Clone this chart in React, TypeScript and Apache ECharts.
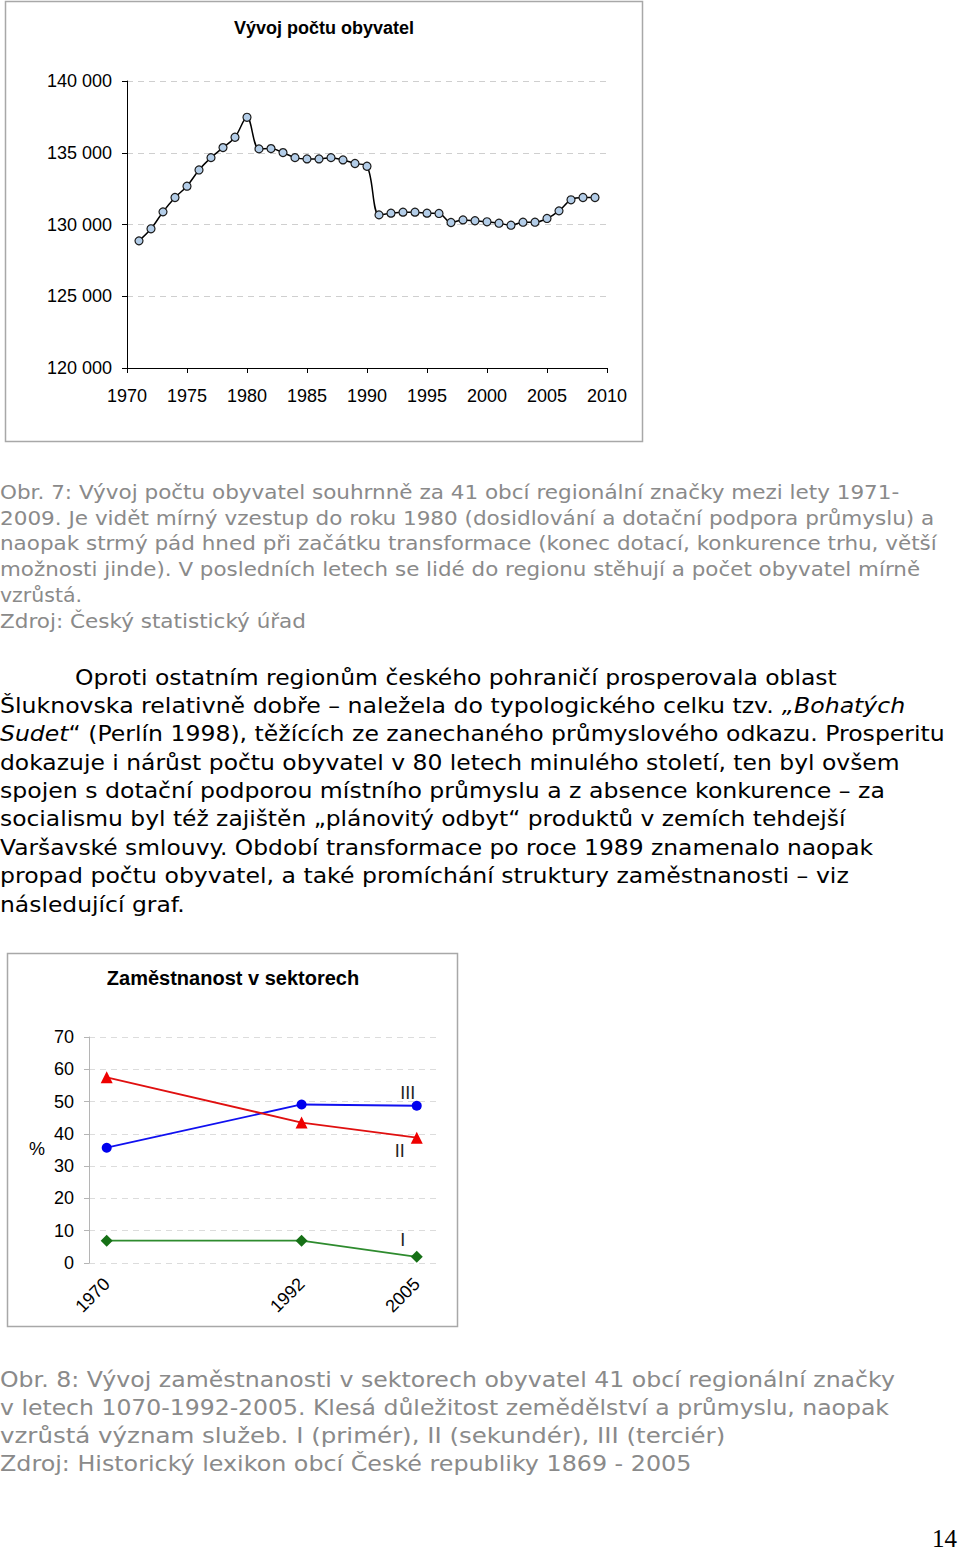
import React, { useEffect, useRef } from "react";
import * as echarts from "echarts";

// ---------- DATA ----------
const popYears = [
  1971, 1972, 1973, 1974, 1975, 1976, 1977, 1978, 1979, 1980,
  1981, 1982, 1983, 1984, 1985, 1986, 1987, 1988, 1989, 1990,
  1991, 1992, 1993, 1994, 1995, 1996, 1997, 1998, 1999, 2000,
  2001, 2002, 2003, 2004, 2005, 2006, 2007, 2008, 2009,
];
const popValues = [
  128860, 129700, 130880, 131880, 132670, 133800, 134660, 135360, 136080, 137470,
  135270, 135290, 135010, 134660, 134570, 134570, 134660, 134500, 134250, 134060,
  130670, 130790, 130860, 130860, 130790, 130770, 130140, 130320, 130260, 130190,
  130090, 129950, 130160, 130160, 130420, 130950, 131720, 131880, 131880,
];
const popTitle = "Vývoj počtu obyvatel";

const empYears = [1970, 1992, 2005];
const sectorIII = [35.7, 49.1, 48.7];
const sectorII = [57.5, 43.5, 38.8];
const sectorI = [6.9, 6.9, 1.9];
const sectorNames = ["III", "II", "I"];
const empTitle = "Zaměstnanost v sektorech";
const empAxisName = "%";

const caption1Lines = [
  "Obr. 7: Vývoj počtu obyvatel souhrnně za 41 obcí regionální značky mezi lety 1971-",
  "2009. Je vidět mírný vzestup do roku 1980 (dosidlování a dotační podpora průmyslu) a",
  "naopak strmý pád hned při začátku transformace (konec dotací, konkurence trhu, větší",
  "možnosti jinde). V posledních letech se lidé do regionu stěhují a počet obyvatel mírně",
  "vzrůstá.",
  "Zdroj: Český statistický úřad",
];

// segments: [text, italic]
const bodyLines: [string, boolean][][] = [
  [["Oproti ostatním regionům českého pohraničí prosperovala oblast", false]],
  [["Šluknovska relativně dobře – naležela do typologického celku tzv. ", false], ["„Bohatých", true]],
  [["Sudet", true], ["“ (Perlín 1998), těžících ze zanechaného průmyslového odkazu. Prosperitu", false]],
  [["dokazuje i nárůst počtu obyvatel v 80 letech minulého století, ten byl ovšem", false]],
  [["spojen s dotační podporou místního průmyslu a z absence konkurence – za", false]],
  [["socialismu byl též zajištěn „plánovitý odbyt“ produktů v zemích tehdejší", false]],
  [["Varšavské smlouvy. Období transformace po roce 1989 znamenalo naopak", false]],
  [["propad počtu obyvatel, a také promíchání struktury zaměstnanosti – viz", false]],
  [["následující graf.", false]],
];

const caption2Lines = [
  "Obr. 8: Vývoj zaměstnanosti v sektorech obyvatel 41 obcí regionální značky",
  "v letech 1070-1992-2005. Klesá důležitost zemědělství a průmyslu, naopak",
  "vzrůstá význam služeb. I (primér), II (sekundér), III (terciér)",
  "Zdroj: Historický lexikon obcí České republiky 1869 - 2005",
];
const pageNumber = "14";

// ---------- LAYOUT ----------
const PARA_FONT = "DejaVu Sans";
const CHART_FONT = "Liberation Sans";
const caption1Layout = { size: 20, ys: [492, 518, 543, 569, 595, 621], rights: [900, 935, 937, 920, 82, 306] };
const bodyLayout = {
  size: 22,
  ys: [677, 705, 733, 762, 790, 818, 847, 875, 904],
  lefts: [75, 0, 0, 0, 0, 0, 0, 0, 0],
  rights: [837, 905, 945, 900, 886, 846, 874, 849, 185],
};
const caption2Layout = { size: 22, ys: [1379, 1407, 1435, 1463], rights: [895, 890, 726, 692] };

let measureCtx: CanvasRenderingContext2D | null = null;
function measure(text: string, size: number, italic: boolean, family: string) {
  if (!measureCtx) measureCtx = document.createElement("canvas").getContext("2d");
  measureCtx!.font = `${italic ? "italic " : ""}${size}px "${family}"`;
  return measureCtx!.measureText(text).width;
}

function lineText(segs: [string, boolean][], x: number, y: number, right: number, size: number, color: string) {
  let w = 0;
  segs.forEach(([t, it]) => (w += measure(t, size, it, PARA_FONT)));
  const sx = (right - x) / w;
  const richStr = segs.map(([t, it]) => `{${it ? "i" : "n"}|${t}}`).join("");
  return {
    type: "text",
    x,
    y,
    scaleX: sx,
    silent: true,
    style: {
      text: richStr,
      fontSize: size,
      fontFamily: PARA_FONT,
      fill: color,
      textAlign: "left",
      textVerticalAlign: "middle",
      rich: {
        n: { fontSize: size, fontFamily: PARA_FONT, fill: color, fontStyle: "normal" },
        i: { fontSize: size, fontFamily: PARA_FONT, fill: color, fontStyle: "italic" },
      },
    },
  };
}

const fmtThousands = (v: number) => {
  const s = Math.round(v).toString();
  return s.replace(/\B(?=(\d{3})+(?!\d))/g, " ");
};
const fmtYear = (v: number) => String(Math.round(v));

function lastLabel(values: number[], name: string, offset: [number, number]) {
  return values.map((v, i) =>
    i === values.length - 1
      ? {
          value: [empYears[i], v],
          label: {
            show: true,
            formatter: name,
            position: "inside",
            offset,
            color: "#222",
            fontSize: 18,
            fontFamily: CHART_FONT,
          },
        }
      : [empYears[i], v]
  );
}

export default function App() {
  const ref = useRef<HTMLDivElement>(null);
  useEffect(() => {
    if (!ref.current) return;
    const chart = echarts.init(ref.current, undefined, { renderer: "svg" });

    const graphics: any[] = [];
    graphics.push({
      type: "rect",
      shape: { x: 5.5, y: 1.5, width: 637, height: 440 },
      style: { fill: "none", stroke: "#a8a8a8", lineWidth: 1.5 },
      silent: true,
    });
    graphics.push({
      type: "rect",
      shape: { x: 7.5, y: 953.5, width: 450, height: 373 },
      style: { fill: "none", stroke: "#a8a8a8", lineWidth: 1.5 },
      silent: true,
    });
    graphics.push({
      type: "text",
      x: 324,
      y: 28,
      style: { text: popTitle, fontSize: 18, fontWeight: "bold", fontFamily: CHART_FONT, fill: "#000", textAlign: "center", textVerticalAlign: "middle" },
    });
    graphics.push({
      type: "text",
      x: 233,
      y: 978,
      style: { text: empTitle, fontSize: 20, fontWeight: "bold", fontFamily: CHART_FONT, fill: "#000", textAlign: "center", textVerticalAlign: "middle" },
    });
    graphics.push({
      type: "text",
      x: 37,
      y: 1149,
      style: { text: empAxisName, fontSize: 18, fontFamily: CHART_FONT, fill: "#000", textAlign: "center", textVerticalAlign: "middle" },
    });

    caption1Lines.forEach((t, i) =>
      graphics.push(lineText([[t, false]], 0, caption1Layout.ys[i], caption1Layout.rights[i], caption1Layout.size, "#8a8a8a"))
    );
    bodyLines.forEach((segs, i) =>
      graphics.push(lineText(segs, bodyLayout.lefts[i], bodyLayout.ys[i], bodyLayout.rights[i], bodyLayout.size, "#000"))
    );
    caption2Lines.forEach((t, i) =>
      graphics.push(lineText([[t, false]], 0, caption2Layout.ys[i], caption2Layout.rights[i], caption2Layout.size, "#8a8a8a"))
    );
    graphics.push({
      type: "text",
      x: 957,
      y: 1538,
      style: { text: pageNumber, fontSize: 25, fontFamily: "Liberation Serif", fill: "#000", textAlign: "right", textVerticalAlign: "middle" },
    });

    const option: any = {
      animation: false,
      backgroundColor: "#ffffff",
      grid: [
        { left: 127, top: 81, width: 480, height: 287 },
        { left: 89, top: 1037, width: 349, height: 226 },
      ],
      xAxis: [
        {
          gridIndex: 0,
          type: "value",
          min: 1970,
          max: 2010,
          interval: 5,
          axisLine: { show: true, lineStyle: { color: "#000", width: 1 } },
          axisTick: { show: true, length: 5, lineStyle: { color: "#000" } },
          axisLabel: { color: "#000", fontSize: 18, fontFamily: CHART_FONT, margin: 19, formatter: fmtYear },
          splitLine: { show: false },
        },
        {
          gridIndex: 1,
          type: "value",
          min: 1968,
          max: 2007.4,
          axisLine: { show: false },
          axisTick: { show: false },
          axisLabel: {
            customValues: empYears,
            rotate: 45,
            color: "#000",
            fontSize: 18,
            fontFamily: CHART_FONT,
            margin: 18,
            formatter: fmtYear,
          },
          splitLine: { show: false },
        },
      ],
      yAxis: [
        {
          gridIndex: 0,
          type: "value",
          min: 120000,
          max: 140000,
          interval: 5000,
          axisLine: { show: true, lineStyle: { color: "#000", width: 1 } },
          axisTick: { show: true, length: 5, lineStyle: { color: "#000" } },
          axisLabel: { color: "#000", fontSize: 18, fontFamily: CHART_FONT, margin: 15, formatter: fmtThousands },
          splitLine: { show: true, lineStyle: { color: "#cfcfcf", type: [6, 5], width: 1 } },
        },
        {
          gridIndex: 1,
          type: "value",
          min: 0,
          max: 70,
          interval: 10,
          axisLine: { show: true, lineStyle: { color: "#b5b5b5", width: 1 } },
          axisTick: { show: true, length: 5, lineStyle: { color: "#b5b5b5" } },
          axisLabel: { color: "#000", fontSize: 18, fontFamily: CHART_FONT, margin: 15 },
          splitLine: { show: true, lineStyle: { color: "#dcdcdc", type: [6, 5], width: 1 } },
        },
      ],
      series: [
        {
          type: "line",
          xAxisIndex: 0,
          yAxisIndex: 0,
          data: popYears.map((y, i) => [y, popValues[i]]),
          smooth: 0.35,
          symbol: "circle",
          symbolSize: 8,
          lineStyle: { color: "#000", width: 1.5 },
          itemStyle: { color: "#b3cde8", borderColor: "#1c1c1c", borderWidth: 1.2 },
        },
        {
          name: sectorNames[0],
          type: "line",
          xAxisIndex: 1,
          yAxisIndex: 1,
          data: lastLabel(sectorIII, sectorNames[0], [-9, -13]),
          symbol: "circle",
          symbolSize: 10,
          lineStyle: { color: "#1010f0", width: 1.8 },
          itemStyle: { color: "#0000ee" },
        },
        {
          name: sectorNames[1],
          type: "line",
          xAxisIndex: 1,
          yAxisIndex: 1,
          data: lastLabel(sectorII, sectorNames[1], [-17, 13]),
          symbol: "triangle",
          symbolSize: 12,
          lineStyle: { color: "#e01010", width: 1.8 },
          itemStyle: { color: "#ee0000" },
        },
        {
          name: sectorNames[2],
          type: "line",
          xAxisIndex: 1,
          yAxisIndex: 1,
          data: lastLabel(sectorI, sectorNames[2], [-14, -17]),
          symbol: "diamond",
          symbolSize: 12,
          lineStyle: { color: "#2e8b2e", width: 1.8 },
          itemStyle: { color: "#167016" },
        },
      ],
      graphic: graphics,
    };
    chart.setOption(option);
    return () => chart.dispose();
  }, []);
  return (
    <div
      ref={ref}
      style={{ position: "absolute", left: 0, top: 0, width: 960, height: 1550, background: "#fff" }}
    />
  );
}
